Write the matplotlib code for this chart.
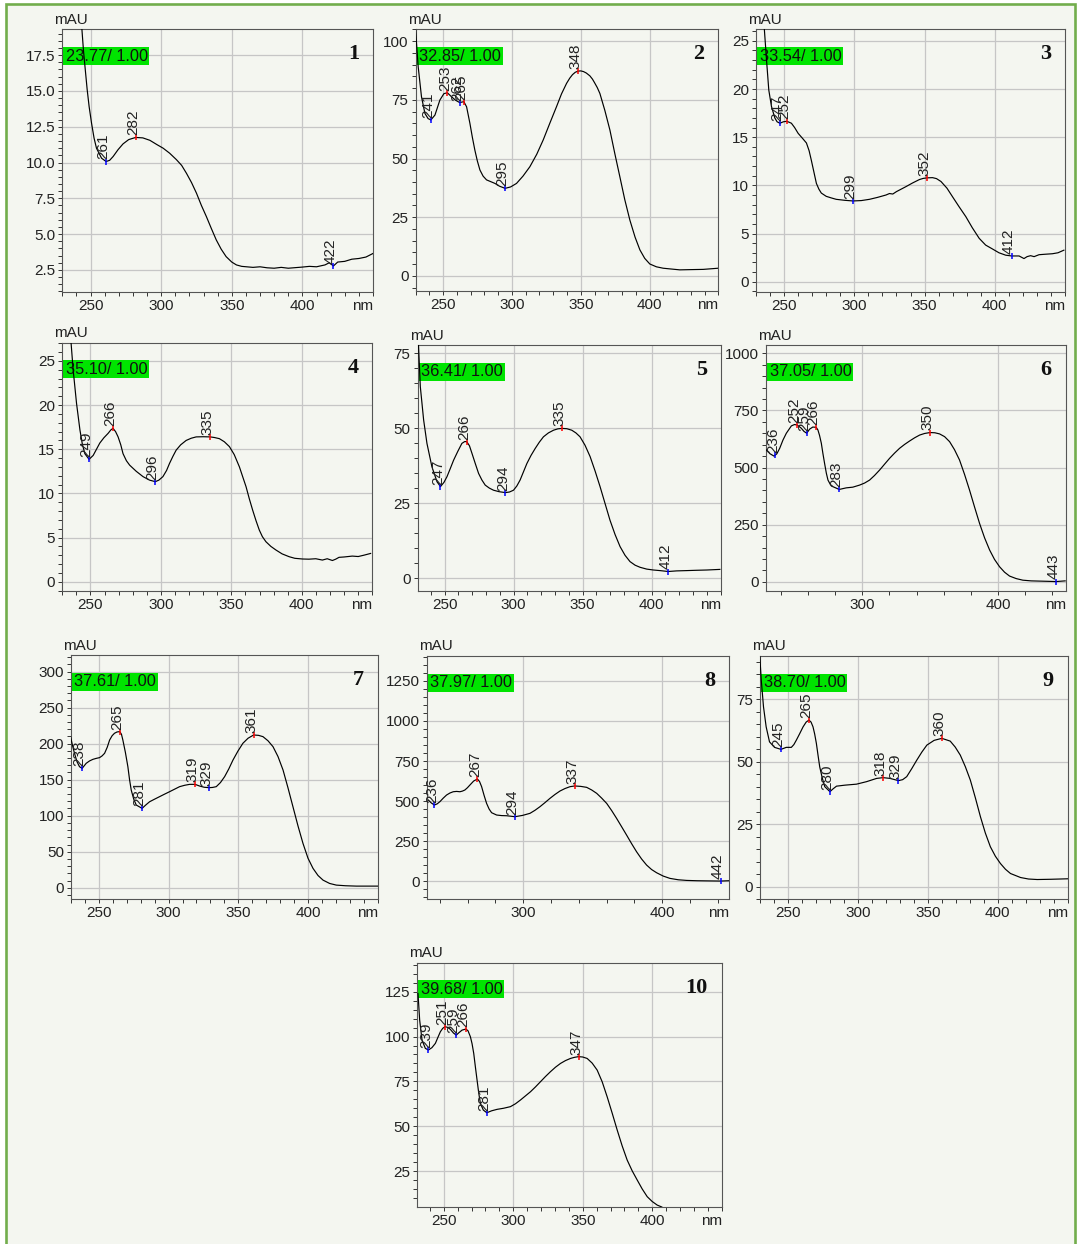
import numpy as np
import matplotlib
matplotlib.use("Agg")
import matplotlib.pyplot as plt
from matplotlib.transforms import Affine2D
from matplotlib.patches import Rectangle
from matplotlib.ticker import MultipleLocator, FormatStrFormatter

plt.rcParams['font.family'] = ['Liberation Sans', 'DejaVu Sans']

# ---- spectra (nm, mAU) ----
nm1 = [243.0, 245.0, 247.6, 249.0, 250.7, 252.5, 254.2, 257.8, 261, 263.5, 266, 269.5, 273, 277, 282, 287, 292,
       297, 301.4, 306, 310.8, 314.5, 317.9, 321.5, 325, 328.5, 332, 335.5, 339, 342.5, 346, 350, 353.3, 357,
       360.4, 365, 370, 375, 380, 385, 390, 395, 400, 405, 410, 416, 419, 422, 425, 430, 435, 440, 445, 450]
au1 = [20.5, 17.8, 15.1, 13.9, 12.75, 11.7, 11.0, 10.3, 10.07, 10.15, 10.42, 10.9, 11.3, 11.6, 11.75, 11.72, 11.55,
       11.25, 11.0, 10.65, 10.2, 9.8, 9.25, 8.6, 7.86, 7.0, 6.23, 5.4, 4.6, 3.95, 3.43, 3.05, 2.85, 2.75,
       2.72, 2.68, 2.72, 2.65, 2.62, 2.68, 2.62, 2.66, 2.7, 2.75, 2.72, 2.85, 3.0, 2.78, 3.05, 3.1, 3.25, 3.3, 3.4, 3.65]

nm2 = [229.5, 231.8, 234.2, 236.7, 239, 241, 244, 247.6, 250.5, 253, 256, 259, 262, 265, 267, 269.4, 271.2, 273,
       274.8, 276.7, 279, 281.5, 287.6, 291, 295, 299, 303.3, 308, 313, 318, 322.7, 327.5, 332.4, 336, 339.7,
       342, 344, 346, 348, 350, 352, 354, 356.6, 358.5, 360, 362, 363.9, 367.5, 371.2, 374.8, 378.4, 382, 385.7,
       389.5, 393, 396.5, 400.2, 405, 409.9, 415, 422, 430, 439, 450]
au2 = [108, 89.1, 76.3, 69.2, 67, 66.4, 68.5, 74.9, 77.6, 78.0, 76.3, 74.8, 73.8, 74.2, 72, 65, 59, 53.6,
       49, 45.1, 42.5, 40.9, 39.4, 38.2, 37.3, 37.9, 39.4, 42.5, 46.5, 51.8, 57.9, 65, 72.1, 77.5, 82,
       84.2, 85.7, 86.7, 87.2, 87.3, 87.0, 86.4, 85.2, 83.8, 82.3, 80.2, 77.7, 70.5, 62.1, 52, 42.3, 32.5, 23.8,
       16.5, 11.1, 7.5, 5.1, 3.9, 3.3, 3.0, 2.6, 2.7, 2.8, 3.3]

nm3 = [235.8, 237.5, 239.1, 241, 243.4, 245, 247, 249.5, 252, 255.2, 257.5, 260, 263, 265.9, 267.8, 269.4, 271.2,
       273, 274.8, 276.5, 280, 283.5, 287.1, 293, 299, 305, 310.8, 316.5, 322.6, 325, 327.4, 330, 336.8, 341.5,
       346.3, 349, 352, 355.7, 358.5, 361.7, 366, 370, 374.5, 379.4, 384, 388.9, 393.5, 398.3, 403, 407.8, 412,
       417.3, 420.8, 423, 425.5, 428, 431.5, 436, 441, 445, 449.2]
au3 = [26.5, 23.0, 19.9, 18.2, 17.0, 16.6, 16.45, 16.6, 16.65, 16.45, 16.0, 15.4, 14.9, 14.4, 13.6, 12.6, 11.4,
       10.2, 9.6, 9.2, 8.86, 8.7, 8.55, 8.45, 8.38, 8.42, 8.55, 8.75, 9.0, 9.15, 9.1, 9.35, 9.87, 10.25,
       10.6, 10.72, 10.78, 10.8, 10.7, 10.4, 9.7, 8.8, 7.8, 6.75, 5.6, 4.5, 3.8, 3.4, 3.0, 2.75, 2.67,
       2.67, 2.4, 2.6, 2.7, 2.6, 2.8, 2.85, 2.9, 3.0, 3.27]

nm4 = [236.1, 237.7, 240.1, 242.5, 244.2, 246, 249, 251.9, 256.6, 259.5, 262.5, 264.5, 266, 267.8, 269.6, 271.5,
       273.1, 275.5, 277.8, 282.5, 287.3, 292, 296, 298.5, 301.4, 304, 306.1, 308.5, 310.8, 314, 317.9, 321.5,
       325, 330, 335, 338, 341.5, 345, 348.6, 352, 355.7, 358, 360.4, 362.7, 365.1, 367.5, 369.8, 372, 374.5, 378,
       381.6, 386, 391, 395, 400.5, 405, 409.9, 414.6, 418, 421.7, 424, 426.4, 430, 435.8, 440, 444, 448.8]
au4 = [27.3, 24.0, 20.2, 17.2, 15.6, 14.5, 13.86, 14.3, 15.7, 16.3, 16.8, 17.2, 17.37, 17.0, 16.4, 15.5,
       14.5, 13.7, 13.2, 12.5, 11.9, 11.5, 11.33, 11.5, 11.9, 12.6, 13.4, 14.2, 14.9, 15.5, 16.0, 16.25,
       16.4, 16.42, 16.4, 16.33, 16.2, 15.85, 15.3, 14.4, 13.0, 11.9, 10.76, 9.4, 8.1, 6.9, 5.85, 5.1, 4.53, 4.0,
       3.59, 3.15, 2.83, 2.65, 2.57, 2.55, 2.6, 2.45, 2.6, 2.4, 2.55, 2.76, 2.8, 2.9, 2.85, 3.0, 3.2]

nm5 = [231.0, 232.4, 234.8, 237.2, 240.8, 244.5, 247, 249.5, 251.7, 254, 256.5, 259.5, 262.5, 264.5, 266, 268,
       269.8, 272.2, 274.6, 277, 279.4, 282.4, 285.4, 289.5, 294, 297, 299.9, 302.3, 304.7, 307.1, 309.6, 312.6,
       315.6, 318.6, 321.6, 325.2, 328.9, 332, 335, 338.5, 342.1, 345.1, 348.1, 351.7, 355.4, 359, 362.6, 366.2,
       369.8, 373.5, 377.1, 380.7, 384.3, 388, 391.6, 396.4, 401.2, 406, 412, 418, 425.3, 432, 440, 449.4]
au5 = [78.5, 63.9, 52.8, 45.0, 37.2, 32.2, 30.6, 32.0, 33.9, 36.5, 39.4, 42.3, 45.0, 45.6, 45.6, 44.2,
       41.7, 38.3, 35.0, 32.8, 31.1, 30.1, 29.4, 28.9, 28.6, 28.8, 29.4, 30.8, 32.8, 35.5, 38.3, 41.0,
       43.3, 45.4, 47.2, 48.5, 49.4, 49.85, 50.0, 49.9, 49.4, 48.5, 47.2, 44.4, 40.6, 35.8, 30.6, 25.0,
       19.4, 14.6, 10.6, 7.7, 5.6, 4.4, 3.7, 3.1, 2.8, 2.6, 2.3, 2.5, 2.6, 2.7, 2.8, 3.0]

nm6 = [229.2, 232, 234.9, 237, 239.1, 241.5, 244, 247.7, 250, 252, 255, 257, 259, 261.2, 263.5, 266, 267.3,
       268.5, 269.8, 271, 272.2, 273.5, 274.7, 276.5, 278.4, 283, 288.2, 293, 298, 301.7, 305.4, 309, 312.8,
       316.5, 320.1, 323.8, 327.5, 331.2, 334.9, 338.6, 342.3, 346, 350, 353.5, 357, 360.7, 364.4, 368, 371.7,
       375.4, 379.1, 382.8, 386.5, 390.2, 393.9, 397.5, 401.2, 404.9, 408.6, 413.5, 418.4, 424.5, 430.7, 437,
       443, 449.6]
au6 = [577, 560, 550, 560, 584, 620, 650, 682, 688, 686, 672, 658, 650, 668, 677, 676, 664,
       640, 606, 560, 518, 475, 445, 425, 416, 404, 411, 414, 423, 432, 445, 465, 489,
       515, 540, 563, 584, 601, 616, 630, 642, 649, 653, 652, 647, 635, 613, 578, 533,
       470, 401, 327, 255, 192, 139, 98, 66, 42, 25, 14, 7, 4, 3, 2,
       1, 4]

nm7 = [229.7, 231, 232.5, 234.3, 236.1, 238, 240.9, 243.3, 245.7, 248, 250.5, 252.3, 254.1, 256, 257.7, 259.5,
       261.2, 263, 265, 266.2, 267.2, 269, 270.8, 272, 273.2, 275, 276.8, 281, 283.7, 286.4, 290, 293.5, 297,
       300.7, 304.3, 307.9, 311.5, 315.1, 319, 322.2, 325.5, 329, 331.5, 334.2, 337.2, 340.2, 343.2, 346.2,
       349.7, 353.3, 357, 361, 364.5, 367.7, 371.3, 374.9, 378.5, 382.1, 385.6, 389.2, 392.8, 396.4, 400,
       403.6, 407.2, 410.8, 415.5, 420.3, 427, 434.7, 442, 449.8]
au7 = [209.7, 198, 186.6, 175, 168, 165.7, 172.7, 176, 178.2, 179.5, 180.6, 183, 186.6, 195, 205, 211,
       214.4, 216.2, 216.7, 213, 205, 188, 168, 150, 135.6, 123, 114.8, 110.2, 115, 119.4, 123, 126.4, 129.8,
       133.3, 136.8, 140.3, 142.2, 143.5, 143.5, 141.2, 139.5, 138.9, 139.2, 140.3, 146, 154.2, 165, 177.3,
       189.5, 200.5, 207.5, 212, 211.5, 209.7, 204, 195.8, 182, 163.4, 139, 112.5, 86, 61.6, 41,
       26.9, 17, 10.6, 6, 3.7, 2.8, 2.3, 2.3, 2.3]

nm8 = [231.7, 233.8, 236, 238, 240, 242.4, 244.8, 247.2, 249.6, 252, 254.4, 256.2, 258, 259.8, 261.6, 264.3,
       267, 268.5, 270, 271.8, 273.6, 275.4, 277.2, 280.8, 284.4, 288, 294, 299.4, 304.8, 308.4, 312, 315.6,
       319.2, 322.8, 326.4, 330, 333.6, 337, 341.3, 345.6, 349.2, 352.8, 356.4, 360, 363.6, 367.1, 370.7,
       374.3, 377.9, 381.5, 385.1, 388.7, 392.3, 395.9, 400.7, 405.5, 411.5, 417.5, 425, 433, 442, 448]
au8 = [506, 488, 475, 482, 496, 518, 537.5, 550, 558, 560, 558, 562, 569, 583, 600, 625,
       637.5, 622, 590, 535, 485, 450, 427, 412.5, 409, 408, 402, 410, 423, 442, 464.6, 490,
       516.7, 541, 562.5, 578, 589.6, 594, 591.5, 585.4, 569, 548, 518, 485, 440, 392, 340,
       287.5, 234, 183, 138, 100, 72, 52, 31, 16.7, 8, 4, 2, 1, 0, 2]

nm9 = [229.7, 230.9, 232.5, 234.4, 236.8, 240.4, 245, 248.8, 252.4, 254.2, 256, 258.4, 260.8, 263, 265, 266.5,
       267.9, 269.1, 270.3, 271.5, 272.7, 274.5, 276.3, 280, 282.4, 284.7, 290.7, 299, 306.2, 313.4, 318, 323,
       329, 332, 334.9, 338.5, 342.1, 345.7, 349.3, 354.5, 360, 366, 369.6, 373.2, 376.8, 380.4, 384, 387.6,
       391.1, 394.7, 398.3, 401.9, 405.5, 409.1, 416.3, 422, 428.2, 438, 450.5]
au9 = [93.5, 82.6, 71.9, 63.9, 57.9, 55.7, 54.9, 55.7, 55.7, 56.8, 58.6, 61.2, 63.9, 65.8, 66.6, 65.8,
       63.9, 61, 57.3, 52.5, 47.9, 43.5, 40, 38, 39.2, 40.2, 40.6, 41, 42, 43.3, 43.6, 43.3,
       42.4, 42.8, 44, 47.2, 50.6, 53.8, 56.6, 58.5, 59.3, 58.2, 55.8, 52.6, 48, 42.6, 35.5, 28,
       21.5, 16, 12.2, 9.3, 7, 5.3, 3.7, 3.1, 2.9, 3.0, 3.2]

nm10 = [231.5, 232.7, 234.4, 236.8, 239, 241.5, 244, 245.8, 247.6, 249.3, 251, 253, 254.8, 257, 259, 261, 263.2,
        266, 267.5, 269.2, 270.4, 271.6, 272.8, 274, 275.2, 276.4, 278.5, 281, 284.5, 288.4, 293, 298, 301.6,
        305.2, 308.8, 312.4, 316, 319.6, 323.2, 326.8, 330.4, 334, 337.6, 341.2, 344, 347, 350, 353.2, 356.8,
        360.4, 364, 367.6, 371.2, 374.8, 378.4, 382, 385.6, 389.2, 392.8, 396.4, 400, 403.6, 406.7, 410]
au10 = [124, 109.2, 98, 93.4, 92.5, 93.8, 96.2, 99.5, 102.7, 104.6, 105.5, 105.1, 104, 102, 100.8, 102.2, 103.6,
        104.2, 103.2, 99.9, 96, 90.6, 83, 75.7, 68.5, 62.7, 59, 57.5, 58.6, 59.4, 60, 60.9, 62.5,
        64.6, 66.9, 69.2, 71.9, 74.8, 77.7, 80.4, 82.9, 85, 86.6, 87.8, 88.4, 88.8, 88.6, 87.8, 85.2,
        81.3, 74.8, 66.4, 57.3, 47.9, 39, 31.1, 25.1, 20, 15, 10.7, 8.0, 6.0, 5.0, 3.5]

# peak (max) and valley (min) wavelengths labelled in each panel
maxima = [[282], [253, 265, 348], [252, 352], [266, 335], [266, 335],
          [252, 266, 350], [265, 319, 361], [267, 337], [265, 318, 360], [251, 266, 347]]
minima = [[261, 422], [241, 262, 295], [247, 299, 412], [249, 296], [247, 294, 412],
          [236, 259, 283, 443], [238, 281, 329], [236, 294, 442], [245, 280, 329], [239, 259, 281]]

rt_labels = ['23.77', '32.85', '33.54', '35.10', '36.41', '37.05', '37.61', '37.97', '38.70', '39.68']

spectra = [(nm1, au1), (nm2, au2), (nm3, au3), (nm4, au4), (nm5, au5),
           (nm6, au6), (nm7, au7), (nm8, au8), (nm9, au9), (nm10, au10)]

# ---- layout (pixels: left, top, right, bottom) ----
W, H = 1077, 1244
boxes = [(62.3, 29.3, 373, 292), (415.7, 29.3, 718.3, 291), (756, 29.3, 1065, 291.7),
         (62.3, 342.7, 372.3, 590.7), (417.7, 345, 720.7, 590.7), (766, 345, 1065.7, 590.7),
         (71, 655, 377.7, 899.3), (426.7, 656, 729, 899.3), (760, 656, 1067.7, 899.3),
         (417.3, 962.7, 721.7, 1206.7)]
xlims = [(230, 450), (230, 450), (230, 450), (230, 450), (230.5, 450),
         (229, 450), (230, 450), (230.5, 448), (230, 450), (231, 450)]
ylims = [(0.96, 19.3), (-6.4, 105), (-1.04, 26.2), (-1.02, 27.07), (-4.1, 77.8),
         (-39, 1036), (-16, 323), (-114, 1406), (-5, 92.2), (5.1, 141.2)]
ymajor = [2.5, 25, 5, 5, 25, 250, 50, 250, 25, 25]
yminor = [0.5, 5, 1, 1, 5, 50, 10, 50, 5, 5]
wide_x = [5, 7]  # panels with 100 nm major ticks

BG = '#f4f6f0'
GREEN_LINE = '#72ad4c'
TXT = '#222222'
FS = 11

fig = plt.figure(figsize=(W / 100, H / 100), dpi=100, facecolor='white')
px = Affine2D().scale(1, -1).translate(0, H)  # pixel coords measured from the top-left

fig.patches.append(Rectangle((6, 4), 1069, 1300, transform=px, fc=BG, ec=GREEN_LINE,
                             lw=1.9, zorder=-5))

for i, (nm, au) in enumerate(spectra):
    l, t, r, b = boxes[i]
    ax = fig.add_axes([l / W, 1 - b / H, (r - l) / W, (b - t) / H])
    ax.set_facecolor('none')
    ax.set_axisbelow(True)

    ax.plot(nm, au, color='black', lw=0.85, zorder=3)

    for x in maxima[i]:
        y = np.interp(x, nm, au)
        ax.plot([x], [y], ls='none', marker='|', ms=5, mew=1.1, color='#ff0000', zorder=4)
        ax.annotate(str(x), xy=(x, y), xytext=(3.2, 1.5), textcoords='offset points',
                    rotation=90, ha='right', va='bottom', fontsize=FS, color=TXT, zorder=5)
    for x in minima[i]:
        y = np.interp(x, nm, au)
        ax.plot([x], [y], ls='none', marker='|', ms=5, mew=1.1, color='#0000ff', zorder=4)
        ax.annotate(str(x), xy=(x, y), xytext=(3.2, 1.5), textcoords='offset points',
                    rotation=90, ha='right', va='bottom', fontsize=FS, color=TXT, zorder=5)

    ax.set_xlim(*xlims[i])
    ax.set_ylim(*ylims[i])
    if i in wide_x:
        ax.xaxis.set_major_locator(MultipleLocator(100))
        ax.xaxis.set_minor_locator(MultipleLocator(20))
    else:
        ax.set_xticks([250, 300, 350, 400])
        ax.xaxis.set_minor_locator(MultipleLocator(10))
    ax.yaxis.set_major_locator(MultipleLocator(ymajor[i]))
    ax.yaxis.set_minor_locator(MultipleLocator(yminor[i]))
    if i == 0:
        ax.yaxis.set_major_formatter(FormatStrFormatter('%.1f'))
    else:
        ax.yaxis.set_major_formatter(FormatStrFormatter('%d'))

    ax.tick_params(which='both', direction='out', length=2.9, width=0.7, color='#333333',
                   labelsize=FS, labelcolor=TXT, pad=2.2, top=False, right=False)
    ax.grid(True, which='major', color='#c6c6c6', lw=0.9)
    for s in ax.spines.values():
        s.set_color('#555555')
        s.set_linewidth(0.8)

    # decorations in pixel coordinates
    ax.add_patch(Rectangle((l, t + 17.5), 87, 18, transform=px, fc='#00e400', ec='none',
                           clip_on=False, zorder=1))
    ax.text(l + 3.5, t + 26.8, rt_labels[i] + '/ 1.00', transform=px, ha='left', va='center',
            fontsize=11.8, color='#111111', clip_on=False, zorder=2)
    ax.text(r - 14, t + 25, str(i + 1), transform=px, ha='right', va='center',
            fontsize=16, fontweight='bold', family='Liberation Serif', color='#111111',
            clip_on=False, zorder=6)
    ax.text(l - 8, t - 2.5, 'mAU', transform=px, ha='left', va='bottom', fontsize=FS,
            color=TXT, clip_on=False)
    ax.text(r, b + 7, 'nm', transform=px, ha='right', va='top', fontsize=FS,
            color=TXT, clip_on=False)

fig.savefig('out.png', dpi=100, facecolor=fig.get_facecolor())
